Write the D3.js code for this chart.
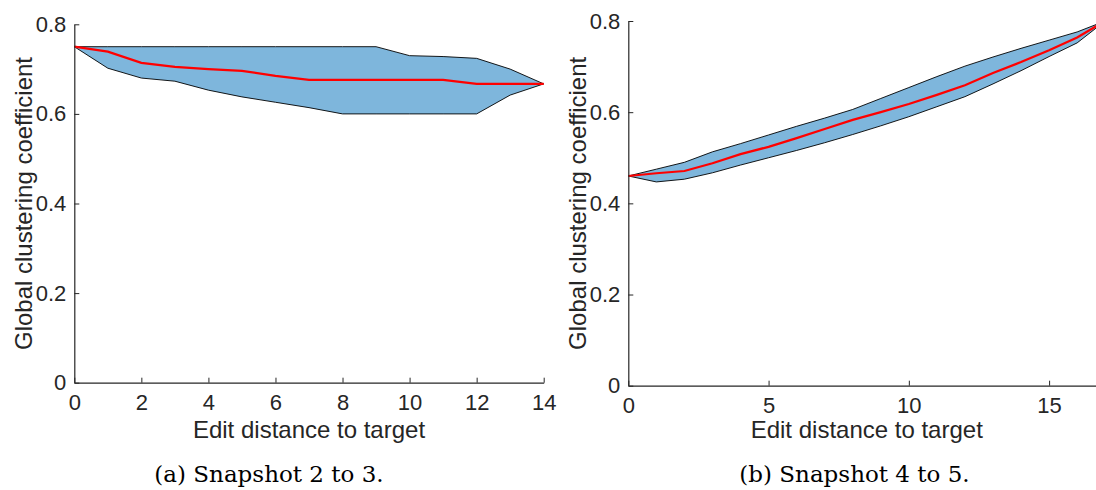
<!DOCTYPE html>
<html>
<head>
<meta charset="utf-8">
<script src="https://cdn.jsdelivr.net/npm/d3@7"></script>
<style>
  body { margin: 0; background: #fff; }
  svg { display: block; }
  .tick text { font-family: "Liberation Sans", Arial, sans-serif; font-size: 22px; fill: #262626; }
  .axisText { font-family: "Liberation Sans", Arial, sans-serif; font-size: 24px; fill: #262626; }
  .caption { font-family: "DejaVu Serif", "Liberation Serif", serif; font-size: 23px; fill: #000; }
</style>
</head>
<body>
<div class="chart"></div>
<script>
// Data
// (a) Snapshot 2 to 3
var distA = [0, 1, 2, 3, 4, 5, 6, 7, 8, 9, 10, 11, 12, 13, 14];
var meanA = [0.750, 0.739, 0.714, 0.705, 0.700, 0.696, 0.685, 0.676, 0.676, 0.676, 0.676, 0.676, 0.667, 0.667, 0.667];
var lowA  = [0.750, 0.702, 0.680, 0.673, 0.653, 0.638, 0.626, 0.614, 0.600, 0.600, 0.600, 0.600, 0.600, 0.642, 0.667];
var highA = [0.750, 0.750, 0.750, 0.750, 0.750, 0.750, 0.750, 0.750, 0.750, 0.750, 0.730, 0.728, 0.724, 0.700, 0.667];
var ticksXA = [0, 2, 4, 6, 8, 10, 12, 14];

// (b) Snapshot 4 to 5
var distB = [0, 1, 2, 3, 4, 5, 6, 7, 8, 9, 10, 11, 12, 13, 14, 15, 16, 17];
var meanB = [0.460, 0.466, 0.471, 0.488, 0.508, 0.524, 0.543, 0.563, 0.583, 0.600, 0.618, 0.638, 0.659, 0.686, 0.710, 0.736, 0.764, 0.800];
var lowB  = [0.460, 0.447, 0.453, 0.467, 0.484, 0.500, 0.516, 0.533, 0.551, 0.570, 0.590, 0.612, 0.634, 0.662, 0.691, 0.722, 0.752, 0.800];
var highB = [0.460, 0.475, 0.490, 0.513, 0.531, 0.550, 0.569, 0.587, 0.606, 0.630, 0.654, 0.678, 0.701, 0.721, 0.740, 0.758, 0.776, 0.800];
var ticksXB = [0, 5, 10, 15];

var ticksY = [0, 0.2, 0.4, 0.6, 0.8];

var svgWidth = 1096;
var svgHeight = 490;

var svg = d3.select(".chart")
  .append("svg")
  .attr("width", svgWidth)
  .attr("height", svgHeight);

function drawPanel(opts) {
  var xScale = d3.scaleLinear()
    .domain(opts.xDomain)
    .range([opts.left, opts.right]);
  var yScale = d3.scaleLinear()
    .domain([0, 0.8])
    .range([opts.bottom, opts.top]);

  var rows = opts.dist.map(function(d, i) {
    return { x: d, mean: opts.mean[i], low: opts.low[i], high: opts.high[i] };
  });

  var g = svg.append("g");

  // min/max band
  var band = d3.area()
    .x(d => xScale(d.x))
    .y0(d => yScale(d.low))
    .y1(d => yScale(d.high));

  g.append("path")
    .datum(rows)
    .attr("d", band)
    .attr("fill", "#7eb6dc")
    .attr("stroke", "#000")
    .attr("stroke-width", 0.9)
    .attr("stroke-linejoin", "round");

  // mean line
  var line = d3.line()
    .x(d => xScale(d.x))
    .y(d => yScale(d.mean));

  g.append("path")
    .datum(rows)
    .attr("d", line)
    .attr("fill", "none")
    .attr("stroke", "#ff0000")
    .attr("stroke-width", 2.2);

  // axes, ticks pointing inward like matlab
  var bottomAxis = d3.axisBottom(xScale)
    .tickValues(opts.ticksX)
    .tickFormat(d3.format("d"))
    .tickSizeInner(-5)
    .tickSizeOuter(0)
    .tickPadding(12);
  var leftAxis = d3.axisLeft(yScale)
    .tickValues(ticksY)
    .tickFormat(d => d === 0 ? "0" : d3.format(".1f")(d))
    .tickSizeInner(-5)
    .tickSizeOuter(0)
    .tickPadding(8);

  g.append("g")
    .attr("transform", `translate(0, ${opts.bottom})`)
    .style("color", "#262626")
    .call(bottomAxis)
    .call(a => a.select(".domain").attr("stroke-width", 1.2));
  g.append("g")
    .attr("transform", `translate(${opts.left}, 0)`)
    .style("color", "#262626")
    .call(leftAxis)
    .call(a => a.select(".domain").attr("stroke-width", 1.2));

  // axis labels
  g.append("text")
    .attr("class", "axisText")
    .attr("text-anchor", "middle")
    .attr("x", (opts.left + opts.right) / 2)
    .attr("y", 438)
    .text("Edit distance to target");

  g.append("text")
    .attr("class", "axisText")
    .attr("text-anchor", "middle")
    .attr("transform", `translate(${opts.left - 42}, ${(opts.top + opts.bottom) / 2}) rotate(-90)`)
    .text("Global clustering coefficient");

  g.append("text")
    .attr("class", "caption")
    .attr("text-anchor", "middle")
    .attr("x", opts.captionX)
    .attr("y", 482)
    .text(opts.caption);
}

drawPanel({
  dist: distA, mean: meanA, low: lowA, high: highA,
  xDomain: [0, 14], ticksX: ticksXA,
  left: 74.3, right: 543.7, top: 24.3, bottom: 382.7,
  caption: "(a) Snapshot 2 to 3.", captionX: 269
});

drawPanel({
  dist: distB, mean: meanB, low: lowB, high: highB,
  xDomain: [0, 17], ticksX: ticksXB,
  left: 628.3, right: 1105.2, top: 21, bottom: 385.7,
  caption: "(b) Snapshot 4 to 5.", captionX: 854.5
});
</script>
</body>
</html>
